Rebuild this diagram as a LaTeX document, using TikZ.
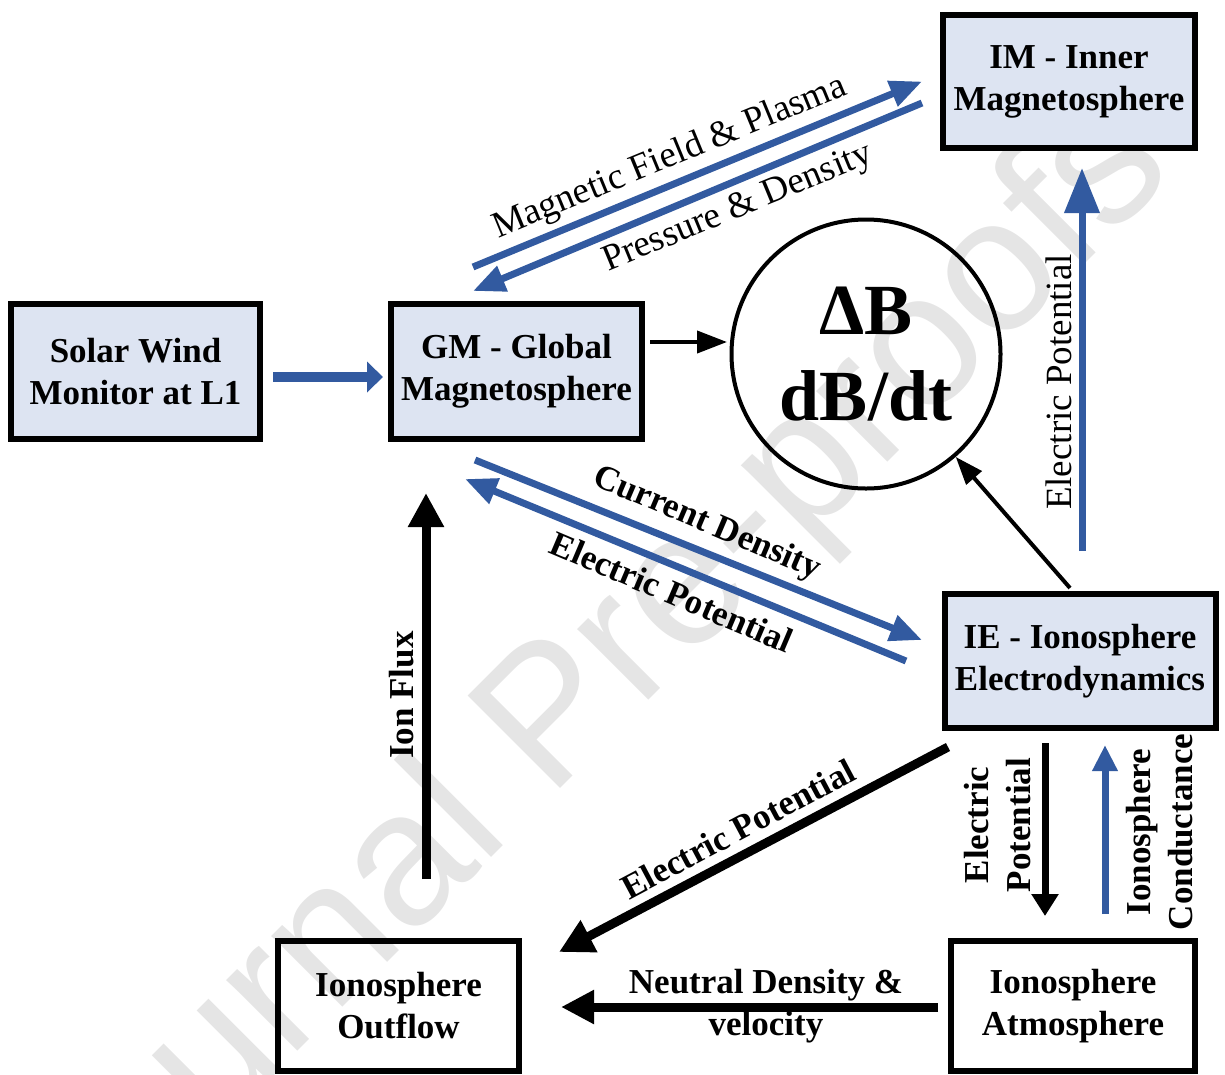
\documentclass[tikz,border=0pt]{standalone}
\usepackage{fontspec}
\setmainfont{Liberation Serif}
\setsansfont{Liberation Sans}
\usetikzlibrary{arrows.meta}
\definecolor{boxblue}{RGB}{221,228,242}
\definecolor{arrowblue}{RGB}{50,90,160}

\begin{document}
\begin{tikzpicture}[x=1pt, y=-1pt,
    box/.style={draw, line width=6pt, align=center, inner sep=0pt, font=\bfseries\fontsize{35}{42}\selectfont},
    bluearrow/.style={draw=arrowblue, line width=7pt, -{Triangle[length=32pt, width=26pt]}},
    blackarrow/.style={draw=black, line width=9pt, -{Triangle[length=34pt, width=34pt]}},
    thinarrow/.style={draw=black, line width=4pt, -{Triangle[length=28pt, width=20pt]}},
    lbl/.style={inner sep=0pt, font=\fontsize{37}{44}\selectfont},
    lblb/.style={inner sep=0pt, align=center, font=\bfseries\fontsize{35}{42}\selectfont}]
  \useasboundingbox (0,0) rectangle (1225,1074);
  \node[text=black!10, font=\sffamily\fontsize{190}{190}\selectfont, rotate=45] (wm) at (590,690) {Journal Pre-proofs};

  \node[box, fill=boxblue, minimum width=249pt, minimum height=135pt] (sw) at (135.5,371.5) {Solar Wind\\Monitor at L1};
  \node[box, fill=boxblue, minimum width=251pt, minimum height=135pt] (gm) at (516.5,371.5) {GM - Global\\Magnetosphere};
  \node[box, fill=boxblue, minimum width=252pt, minimum height=133pt] (im) at (1069,81.5) {IM - Inner\\Magnetosphere};
  \node[box, fill=boxblue, minimum width=271pt, minimum height=134pt] (ie) at (1080,661) {IE - Ionosphere\\Electrodynamics};
  \node[box, minimum width=244pt, minimum height=130pt] (atm) at (1073,1006) {Ionosphere\\Atmosphere};
  \node[box, minimum width=241pt, minimum height=130pt] (out) at (398.5,1006) {Ionosphere\\Outflow};
  \node[circle, draw, line width=4pt, minimum size=269pt, inner sep=0pt, align=center, font=\bfseries\fontsize{72}{86}\selectfont] (db) at (866,354) {ΔB\\dB/dt};

  % top and middle
  \draw[bluearrow, line width=10pt, -{Triangle[length=16pt, width=30pt]}] ([xshift=10pt, yshift=-5.5pt]sw.east) -- ([xshift=-5pt, yshift=-5.5pt]gm.west);
  \draw[thinarrow, -{Triangle[length=30pt, width=22pt]}] ([xshift=5pt, yshift=29.5pt]gm.east) -- ([xshift=-2.5pt, yshift=12pt]db.west);
  \draw[bluearrow] ([xshift=-43.5pt, yshift=34pt]gm.north) -- ([xshift=-18pt]im.west);
  \draw[bluearrow] ([xshift=-18pt, yshift=-21.5pt]im.west) -- ([xshift=-43.5pt, yshift=10pt]gm.north);
  \draw[bluearrow] ([xshift=-41.5pt, yshift=-18pt]gm.south) -- ([xshift=-19.5pt, yshift=21pt]ie.west);
  \draw[bluearrow] ([xshift=-35.5pt]ie.west) -- ([xshift=-51.5pt, yshift=-37pt]gm.south);
  \draw[bluearrow, -{Triangle[length=45pt, width=34pt]}] ([xshift=2pt, yshift=40pt]ie.north) -- ([xshift=13pt, yshift=-17pt]im.south);
  \draw[thinarrow] ([xshift=-10pt, yshift=3pt]ie.north) -- (db);

  % bottom
  \draw[blackarrow] ([xshift=6.5pt, yshift=-16pt]ie.south west) -- ([xshift=37pt, yshift=-14pt]out.north east);
  \draw[blackarrow, line width=7pt, -{Triangle[length=22pt, width=26pt]}] ([xshift=-35pt, yshift=-12pt]ie.south) -- ([xshift=-28pt, yshift=22pt]atm.north);
  \draw[bluearrow, -{Triangle[length=26pt, width=24pt]}] ([xshift=32pt, yshift=24pt]atm.north) -- ([xshift=25pt, yshift=-14pt]ie.south);
  \draw[blackarrow, -{Triangle[length=33pt, width=32pt]}] ([xshift=-10pt, yshift=-1pt]atm.west) -- ([xshift=39pt, yshift=-1pt]out.east);
  \draw[blackarrow] ([xshift=27.5pt, yshift=59pt]out.north) -- ([xshift=-90.5pt, yshift=-51pt]gm.south);

  \node[lbl, rotate=22.4] (mfp) at (670,158) {Magnetic Field \& Plasma};
  \node[lbl, rotate=22.4] (pd) at (738,209) {Pressure \& Density};
  \node[lblb, rotate=-23] (cd) at (707,524) {Current Density};
  \node[lblb, rotate=-23] (ep1) at (672,592) {Electric Potential};
  \node[lbl, rotate=90] (ep2) at (1059,382) {Electric Potential};
  \node[lblb, rotate=28] (ep3) at (738,829) {Electric Potential};
  \node[lblb, rotate=90] (ep4) at (998,825) {Electric\\Potential};
  \node[lblb, rotate=90] (ic) at (1160,832) {Ionosphere\\Conductance};
  \node[lblb, rotate=90] (flux) at (402,695) {Ion Flux};
  \node[lblb] (ndv) at (766,1006) {Neutral Density \&\\velocity};
\end{tikzpicture}
\end{document}
